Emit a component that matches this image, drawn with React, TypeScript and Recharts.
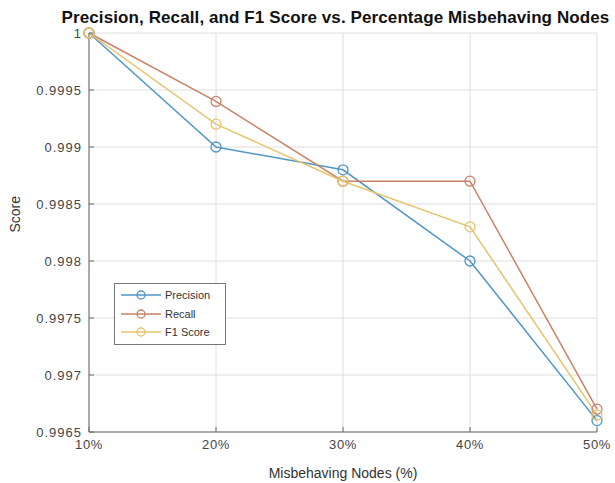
import { LineChart, Line, XAxis, YAxis, CartesianGrid, Legend } from 'recharts';

const percentages = [10, 20, 30, 40, 50];
const precision = [1, 0.999, 0.9988, 0.998, 0.9966];
const recall = [1, 0.9994, 0.9987, 0.9987, 0.9967];
const f1Score = [1, 0.9992, 0.9987, 0.9983, 0.99665];
const yTicks = [0.9965, 0.997, 0.9975, 0.998, 0.9985, 0.999, 0.9995, 1];

const seriesList = [
    { key: 'precision', name: 'Precision', color: '#4f97c6' },
    { key: 'recall', name: 'Recall', color: '#c98267' },
    { key: 'f1', name: 'F1 Score', color: '#e6c46e' },
];

const data = percentages.map((p, i) => ({
    pct: p,
    precision: precision[i],
    recall: recall[i],
    f1: f1Score[i],
}));

const font = '"Liberation Sans", Arial, sans-serif';

const LegendBox = () => (
    <div style={{
        border: '1px solid #777', background: '#fff', padding: '2px 6px 2px 4px',
        fontFamily: font, fontSize: 11, color: '#333', width: 112, boxSizing: 'border-box',
        whiteSpace: 'nowrap',
    }}>
        {seriesList.map(s => (
            <div key={s.key} style={{ display: 'flex', alignItems: 'center', height: 18.5 }}>
                <svg width={44} height={12}>
                    <line x1={2} y1={6} x2={42} y2={6} stroke={s.color} strokeWidth={1.5} />
                    <circle cx={22} cy={6} r={4} fill="none" stroke={s.color} strokeWidth={1.3} />
                </svg>
                <span style={{ marginLeft: 2 }}>{s.name}</span>
            </div>
        ))}
    </div>
);

export default function App() {
    return (
        <div style={{ position: 'absolute', left: 0, top: 0, width: 615, height: 483, background: '#fff' }}>
            <div style={{
                position: 'absolute', top: 8, left: 56, width: 559, textAlign: 'center',
                fontFamily: font, fontWeight: 'bold', fontSize: 17, lineHeight: '20px', color: '#111',
                whiteSpace: 'nowrap', letterSpacing: 0.1,
            }}>
                Precision, Recall, and F1 Score vs. Percentage Misbehaving Nodes
            </div>
            <LineChart
                width={615}
                height={483}
                data={data}
                margin={{ top: 33, right: 18, bottom: 0, left: 0 }}
            >
                <CartesianGrid stroke="#dedede" />
                <XAxis
                    dataKey="pct"
                    type="number"
                    domain={[10, 50]}
                    ticks={percentages}
                    tickFormatter={(v: number) => `${v}%`}
                    stroke="#666"
                    tick={{ fill: '#444', fontSize: 13, fontFamily: font, letterSpacing: 0.6 }}
                    tickSize={-5}
                    tickMargin={13}
                    label={{ value: 'Misbehaving Nodes (%)', position: 'insideBottom', offset: 5, fill: '#333', fontSize: 14, fontFamily: font }}
                    height={51}
                />
                <XAxis xAxisId="top" orientation="top" dataKey="pct" type="number" domain={[10, 50]}
                    ticks={percentages} tick={false} tickSize={-5} stroke="#666" height={0} />
                <YAxis
                    type="number"
                    domain={[0.9965, 1]}
                    ticks={yTicks}
                    tickFormatter={(v: number) => String(Number(v.toFixed(4)))}
                    stroke="#666"
                    tick={{ fill: '#444', fontSize: 13, fontFamily: font, letterSpacing: 1 }}
                    tickSize={-5}
                    tickMargin={12}
                    width={89}
                    label={{ value: 'Score', angle: -90, position: 'insideLeft', offset: 15, fill: '#333', fontSize: 14, fontFamily: font }}
                />
                <YAxis yAxisId="right" orientation="right" type="number" domain={[0.9965, 1]}
                    ticks={yTicks} tick={false} tickSize={-5} stroke="#666" width={0} />
                {seriesList.map(s => (
                    <Line
                        key={s.key}
                        dataKey={s.key}
                        name={s.name}
                        stroke={s.color}
                        strokeWidth={1.5}
                        dot={{ r: 5, fill: 'none', stroke: s.color, strokeWidth: 1.3 }}
                        isAnimationActive={false}
                    />
                ))}
                <Legend content={<LegendBox />} layout="vertical" align="center" verticalAlign="middle"
                    wrapperStyle={{ left: 114, top: 283, width: 'auto' }} />
            </LineChart>
        </div>
    );
}
